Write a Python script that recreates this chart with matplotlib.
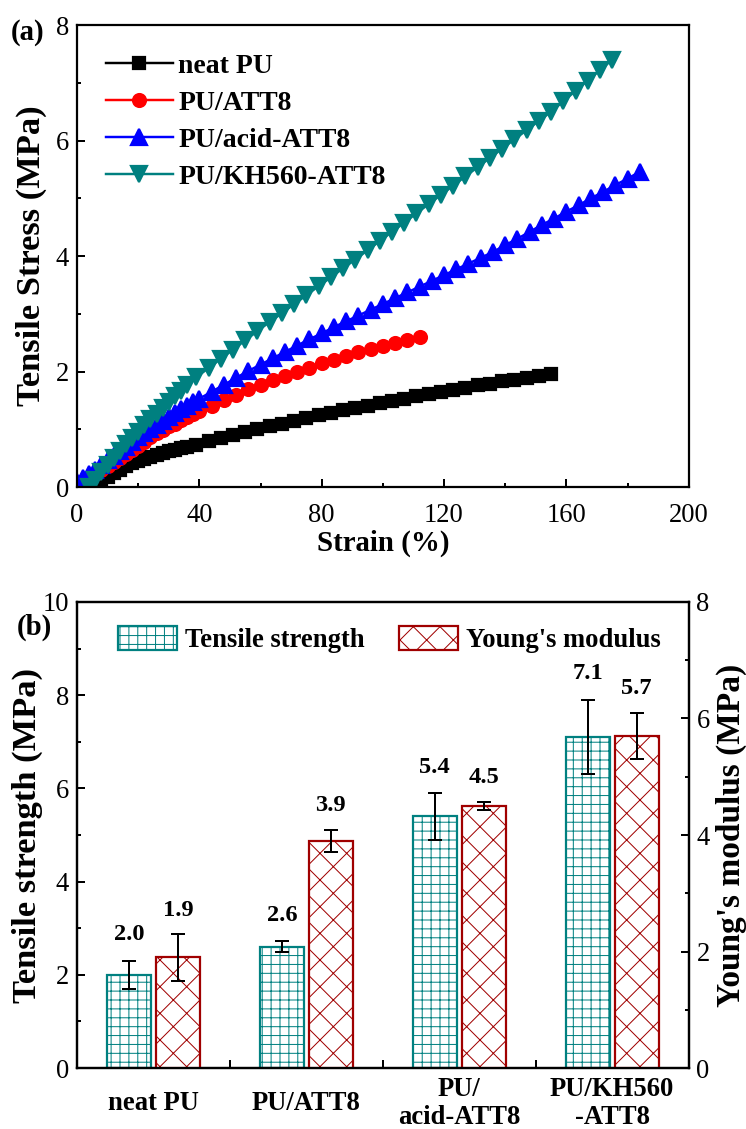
import matplotlib
matplotlib.use("Agg")
import matplotlib.pyplot as plt
from matplotlib.ticker import MultipleLocator, FixedLocator

# ---- (a) stress-strain curves ----
neat_strain = [4, 6, 8, 10, 12, 14, 16, 18, 20, 22, 24, 26, 28, 30, 32, 34, 36] + \
    [39, 43, 47, 51, 55, 59, 63, 67, 71, 75, 79, 83, 87, 91, 95, 99, 103, 107, 111, 115,
     119, 123, 127, 131, 135, 139, 143, 147, 151, 155]
neat_stress = [0, 0.06, 0.12, 0.18, 0.24, 0.3, 0.36, 0.41, 0.45, 0.49, 0.52, 0.55, 0.59, 0.62, 0.65, 0.68, 0.7] + \
    [0.73, 0.79, 0.85, 0.9, 0.95, 1.0, 1.05, 1.1, 1.15, 1.19, 1.24, 1.28, 1.33, 1.37, 1.41, 1.45, 1.49, 1.53,
     1.57, 1.61, 1.65, 1.68, 1.72, 1.76, 1.79, 1.83, 1.86, 1.89, 1.92, 1.95]

att_strain = [0, 2, 4, 6, 8, 10, 12, 14, 16, 18, 20, 22, 24, 26, 28, 30, 32, 34, 36, 38] + \
    [40, 44, 48, 52, 56, 60, 64, 68, 72, 76, 80, 84, 88, 92, 96, 100, 104, 108, 112]
att_stress = [0.05, 0.1, 0.16, 0.22, 0.29, 0.36, 0.43, 0.5, 0.57, 0.64, 0.71, 0.78, 0.86, 0.93, 0.99, 1.05,
              1.1, 1.16, 1.21, 1.26] + \
    [1.31, 1.41, 1.5, 1.6, 1.69, 1.77, 1.85, 1.93, 2.0, 2.07, 2.14, 2.2, 2.27, 2.33, 2.39, 2.45, 2.5, 2.55, 2.6]

acid_strain = [0, 2, 4, 6, 8, 10, 12, 14, 16, 18, 20, 22, 24, 26, 28, 30, 32, 34, 36, 38] + \
    [40, 44, 48, 52, 56, 60, 64, 68, 72, 76, 80, 84, 88, 92, 96, 100, 104, 108, 112, 116, 120,
     124, 128, 132, 136, 140, 144, 148, 152, 156, 160, 164, 168, 172, 176, 180, 184]
acid_stress = [0.08, 0.15, 0.22, 0.3, 0.38, 0.46, 0.54, 0.62, 0.7, 0.78, 0.86, 0.94, 1.01, 1.08, 1.15, 1.22,
               1.29, 1.35, 1.41, 1.47] + \
    [1.53, 1.65, 1.77, 1.89, 2.01, 2.12, 2.23, 2.34, 2.45, 2.56, 2.66, 2.77, 2.87, 2.97, 3.07, 3.17, 3.27,
     3.37, 3.47, 3.57, 3.67, 3.77, 3.87, 3.97, 4.07, 4.19, 4.3, 4.42, 4.54, 4.65, 4.77, 4.88, 5.0, 5.11,
     5.23, 5.34, 5.46]

kh_strain = [4, 6, 8, 10, 12, 14, 16, 18, 20, 22, 24, 26, 28, 30, 32, 34, 36] + \
    [39, 43, 47, 51, 55, 59, 63, 67, 71, 75, 79, 83, 87, 91, 95, 99, 103, 107, 111, 115, 119, 123,
     127, 131, 135, 139, 143, 147, 151, 155, 159, 163, 167, 171, 175]
kh_stress = [0, 0.13, 0.26, 0.38, 0.5, 0.62, 0.74, 0.85, 0.96, 1.07, 1.17, 1.27, 1.37, 1.47, 1.57, 1.67, 1.76] + \
    [1.9, 2.06, 2.22, 2.38, 2.54, 2.7, 2.86, 3.01, 3.17, 3.32, 3.48, 3.63, 3.79, 3.94, 4.1, 4.26, 4.42, 4.58,
     4.74, 4.9, 5.06, 5.22, 5.38, 5.54, 5.7, 5.86, 6.02, 6.18, 6.34, 6.5, 6.68, 6.86, 7.04, 7.22, 7.4]

# ---- (b) bars ----
categories = ["neat PU", "PU/ATT8", "PU/\nacid-ATT8", "PU/KH560\n-ATT8"]
tensile = [2.0, 2.6, 5.4, 7.1]
tensile_err = [0.3, 0.12, 0.5, 0.8]
modulus = [1.9, 3.9, 4.5, 5.7]
modulus_err = [0.4, 0.19, 0.07, 0.4]

TEAL = "#008080"
DARKRED = "#A00000"

plt.rcParams['font.family'] = ['Liberation Serif', 'DejaVu Serif']
plt.rcParams['hatch.linewidth'] = 0.45
plt.rcParams['axes.linewidth'] = 1.0

DPI = 160
fig = plt.figure(figsize=(746 / DPI, 1129 / DPI), dpi=DPI)


def style_ticks(ax):
    ax.tick_params(which='both', direction='in', labelsize=12, width=0.9)
    ax.tick_params(which='major', length=3.5)
    ax.tick_params(which='minor', length=2.0)


# ---------------- panel (a) ----------------
ax1 = fig.add_axes([0.1032, 0.5686, 0.82, 0.4092])
ax1.plot(neat_strain, neat_stress, '-s', color='black', lw=1.1, ms=5.2, label='neat PU')
ax1.plot(att_strain, att_stress, '-o', color='#FF0000', lw=1.1, ms=5.8, label='PU/ATT8')
ax1.plot(acid_strain, acid_stress, '-^', color='#0000FF', lw=1.1, ms=6.8, label='PU/acid-ATT8')
ax1.plot(kh_strain, kh_stress, '-v', color=TEAL, lw=1.1, ms=6.8, label='PU/KH560-ATT8')
ax1.set_xlim(0, 200)
ax1.set_ylim(0, 8)
ax1.xaxis.set_major_locator(MultipleLocator(40))
ax1.xaxis.set_minor_locator(MultipleLocator(20))
ax1.yaxis.set_major_locator(MultipleLocator(2))
ax1.yaxis.set_minor_locator(MultipleLocator(1))
style_ticks(ax1)
ax1.tick_params(axis='x', which='both', pad=7)
ax1.set_xlabel('Strain (%)', fontsize=13, fontweight='bold', labelpad=1)
ax1.set_ylabel('Tensile Stress (MPa)', fontsize=15.5, fontweight='bold', labelpad=4)
ax1.legend(loc='upper left', bbox_to_anchor=(0.02, 0.975), frameon=False, numpoints=1,
           prop={'weight': 'bold', 'size': 12.5}, handlelength=2.4, handletextpad=0.2,
           labelspacing=0.42, borderaxespad=0.2)
fig.text(0.014, 0.971, '(a)', fontsize=13, fontweight='bold', ha='left', va='center')

# ---------------- panel (b) ----------------
ax = fig.add_axes([0.1032, 0.054, 0.82, 0.4128])
ax2 = ax.twinx()
x = list(range(len(categories)))
w = 0.29
xt = [i - 0.16 for i in x]
xm = [i + 0.16 for i in x]

b1 = ax.bar(xt, tensile, w, facecolor='white', edgecolor=TEAL, hatch='+++', lw=1.0,
            label='Tensile strength', zorder=2)
ax.errorbar(xt, tensile, yerr=tensile_err, fmt='none', ecolor='black', elinewidth=0.9,
            capsize=3.0, capthick=0.9, zorder=3)
b2 = ax2.bar(xm, modulus, w, facecolor='white', edgecolor=DARKRED, hatch='xx', lw=1.0,
             label="Young's modulus", zorder=2)
ax2.errorbar(xm, modulus, yerr=modulus_err, fmt='none', ecolor='black', elinewidth=0.9,
             capsize=3.0, capthick=0.9, zorder=3)

for xi, v, e in zip(xt, tensile, tensile_err):
    ax.annotate(f'{v:.1f}', (xi, v + e), xytext=(0, 7), textcoords='offset points',
                ha='center', va='bottom', fontsize=11, fontweight='bold')
for xi, v, e in zip(xm, modulus, modulus_err):
    ax2.annotate(f'{v:.1f}', (xi, v + e), xytext=(0, 6), textcoords='offset points',
                 ha='center', va='bottom', fontsize=11, fontweight='bold')

ax.set_xlim(-0.5, 3.5)
ax.set_ylim(0, 10)
ax2.set_ylim(0, 8)
ax.set_xticks(x)
ax.set_xticklabels(categories, fontsize=11.5, fontweight='bold', linespacing=1.15)
for lab in ax.get_xticklabels():
    lab.set_va('center')
ax.xaxis.set_minor_locator(FixedLocator([0.5, 1.5, 2.5]))
ax.yaxis.set_major_locator(MultipleLocator(2))
ax.yaxis.set_minor_locator(MultipleLocator(1))
ax2.yaxis.set_major_locator(MultipleLocator(2))
ax2.yaxis.set_minor_locator(MultipleLocator(1))
style_ticks(ax)
style_ticks(ax2)
ax.tick_params(axis='x', which='major', length=0, pad=16)
ax.tick_params(axis='x', which='minor', length=3.5)
ax.set_ylabel('Tensile strength (MPa)', fontsize=15.5, fontweight='bold', labelpad=0)
ax2.set_ylabel("Young's modulus (MPa)", fontsize=15, fontweight='bold', labelpad=2.5)

ax.legend([b1, b2], ['Tensile strength', "Young's modulus"], loc='upper left',
          bbox_to_anchor=(0.028, 1.0), ncol=2, frameon=False,
          prop={'weight': 'bold', 'size': 12}, handlelength=2.2, handleheight=1.0,
          handletextpad=0.3, columnspacing=1.3)
fig.text(0.022, 0.444, '(b)', fontsize=13, fontweight='bold', ha='left', va='center')

fig.savefig('out.png', dpi=DPI)
